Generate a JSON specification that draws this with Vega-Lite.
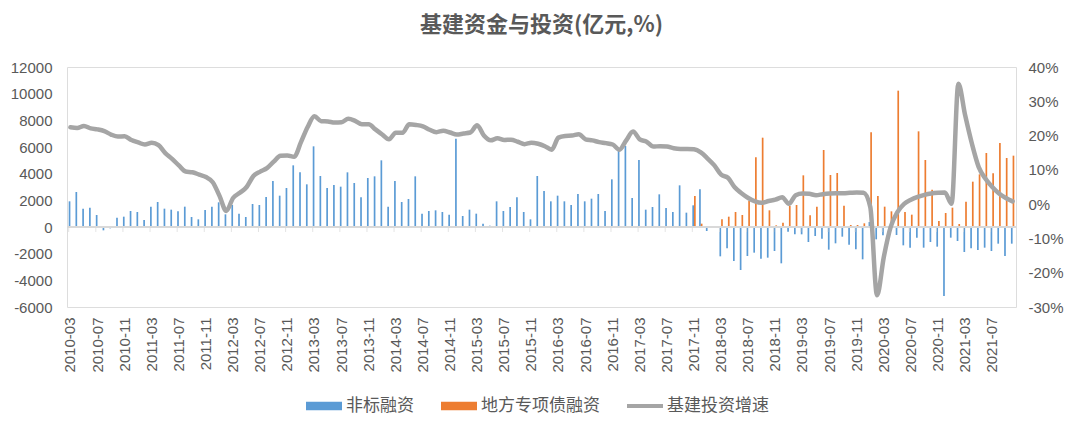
{
  "$schema": "https://vega.github.io/schema/vega-lite/v6.json",
  "width": 949,
  "height": 240,
  "autosize": {"type": "none"},
  "padding": {"left": 67, "top": 67, "right": 64, "bottom": 120},
  "background": "white",
  "title": {
    "text": "基建资金与投资(亿元,%)",
    "font": "Noto Sans CJK SC",
    "fontSize": 22,
    "fontWeight": "bold",
    "color": "#595959",
    "anchor": "middle",
    "frame": "group",
    "offset": 23
  },
  "data": {
    "values": [
      {"month": "2010-03", "非标融资": 1925, "地方专项债融资": null, "基建投资增速": 22.4},
      {"month": "2010-04", "非标融资": 2625, "地方专项债融资": null, "基建投资增速": 22.2},
      {"month": "2010-05", "非标融资": 1375, "地方专项债融资": null, "基建投资增速": 22.8},
      {"month": "2010-06", "非标融资": 1450, "地方专项债融资": null, "基建投资增速": 22.1},
      {"month": "2010-07", "非标融资": 900, "地方专项债融资": null, "基建投资增速": 21.8},
      {"month": "2010-08", "非标融资": -250, "地方专项债融资": null, "基建投资增速": 21.3},
      {"month": "2010-09", "非标融资": -100, "地方专项债融资": null, "基建投资增速": 20.3},
      {"month": "2010-10", "非标融资": 700, "地方专项债融资": null, "基建投资增速": 19.7},
      {"month": "2010-11", "非标融资": 775, "地方专项债融资": null, "基建投资增速": 19.8},
      {"month": "2010-12", "非标融资": 1200, "地方专项债融资": null, "基建投资增速": 18.7},
      {"month": "2011-01", "非标融资": 1125, "地方专项债融资": null, "基建投资增速": 18.0},
      {"month": "2011-02", "非标融资": 525, "地方专项债融资": null, "基建投资增速": 17.4},
      {"month": "2011-03", "非标融资": 1525, "地方专项债融资": null, "基建投资增速": 17.9},
      {"month": "2011-04", "非标融资": 1875, "地方专项债融资": null, "基建投资增速": 17.2},
      {"month": "2011-05", "非标融资": 1375, "地方专项债融资": null, "基建投资增速": 14.9},
      {"month": "2011-06", "非标融资": 1300, "地方专项债融资": null, "基建投资增速": 13.2},
      {"month": "2011-07", "非标融资": 1175, "地方专项债融资": null, "基建投资增速": 11.3},
      {"month": "2011-08", "非标融资": 1525, "地方专项债融资": null, "基建投资增速": 9.5},
      {"month": "2011-09", "非标融资": 750, "地方专项债融资": null, "基建投资增速": 9.3},
      {"month": "2011-10", "非标融资": 575, "地方专项债融资": null, "基建投资增速": 8.6},
      {"month": "2011-11", "非标融资": 1275, "地方专项债融资": null, "基建投资增速": 7.9},
      {"month": "2011-12", "非标融资": 1525, "地方专项债融资": null, "基建投资增速": 6.4},
      {"month": "2012-01", "非标融资": 1850, "地方专项债融资": null, "基建投资增速": 2.4},
      {"month": "2012-02", "非标融资": 950, "地方专项债融资": null, "基建投资增速": -2.0},
      {"month": "2012-03", "非标融资": 1650, "地方专项债融资": null, "基建投资增速": 1.8},
      {"month": "2012-04", "非标融资": 1000, "地方专项债融资": null, "基建投资增速": 3.3},
      {"month": "2012-05", "非标融资": 750, "地方专项债融资": null, "基建投资增速": 5.0},
      {"month": "2012-06", "非标融资": 1725, "地方专项债融资": null, "基建投资增速": 8.2},
      {"month": "2012-07", "非标融资": 1650, "地方专项债融资": null, "基建投资增速": 9.5},
      {"month": "2012-08", "非标融资": 2250, "地方专项债融资": null, "基建投资增速": 10.5},
      {"month": "2012-09", "非标融资": 3450, "地方专项债融资": null, "基建投资增速": 12.4},
      {"month": "2012-10", "非标融资": 2350, "地方专项债融资": null, "基建投资增速": 14.1},
      {"month": "2012-11", "非标融资": 2925, "地方专项债融资": null, "基建投资增速": 14.2},
      {"month": "2012-12", "非标融资": 4625, "地方专项债融资": null, "基建投资增速": 13.8},
      {"month": "2013-01", "非标融资": 4100, "地方专项债融资": null, "基建投资增速": 18.0},
      {"month": "2013-02", "非标融资": 3200, "地方专项债融资": null, "基建投资增速": 22.5},
      {"month": "2013-03", "非标融资": 6050, "地方专项债融资": null, "基建投资增速": 25.6},
      {"month": "2013-04", "非标融资": 3825, "地方专项债融资": null, "基建投资增速": 24.2},
      {"month": "2013-05", "非标融资": 2925, "地方专项债融资": null, "基建投资增速": 24.1},
      {"month": "2013-06", "非标融资": 3150, "地方专项债融资": null, "基建投资增速": 23.8},
      {"month": "2013-07", "非标融资": 3025, "地方专项债融资": null, "基建投资增速": 23.9},
      {"month": "2013-08", "非标融资": 4100, "地方专项债融资": null, "基建投资增速": 24.9},
      {"month": "2013-09", "非标融资": 3300, "地方专项债融资": null, "基建投资增速": 24.3},
      {"month": "2013-10", "非标融资": 2225, "地方专项债融资": null, "基建投资增速": 23.3},
      {"month": "2013-11", "非标融资": 3675, "地方专项债融资": null, "基建投资增速": 23.3},
      {"month": "2013-12", "非标融资": 3800, "地方专项债融资": null, "基建投资增速": 21.8},
      {"month": "2014-01", "非标融资": 5000, "地方专项债融资": null, "基建投资增速": 20.3},
      {"month": "2014-02", "非标融资": 1525, "地方专项债融资": null, "基建投资增速": 18.9},
      {"month": "2014-03", "非标融资": 3450, "地方专项债融资": null, "基建投资增速": 20.8},
      {"month": "2014-04", "非标融资": 1875, "地方专项债融资": null, "基建投资增速": 20.8},
      {"month": "2014-05", "非标融资": 2100, "地方专项债融资": null, "基建投资增速": 23.3},
      {"month": "2014-06", "非标融资": 3800, "地方专项债融资": null, "基建投资增速": 23.1},
      {"month": "2014-07", "非标融资": 1000, "地方专项债融资": null, "基建投资增速": 22.7},
      {"month": "2014-08", "非标融资": 1200, "地方专项债融资": null, "基建投资增速": 21.7},
      {"month": "2014-09", "非标融资": 1250, "地方专项债融资": null, "基建投资增速": 21.0},
      {"month": "2014-10", "非标融资": 1125, "地方专项债融资": null, "基建投资增速": 21.4},
      {"month": "2014-11", "非标融资": 925, "地方专项债融资": null, "基建投资增速": 20.9},
      {"month": "2014-12", "非标融资": 6625, "地方专项债融资": null, "基建投资增速": 20.3},
      {"month": "2015-01", "非标融资": 825, "地方专项债融资": null, "基建投资增速": 20.6},
      {"month": "2015-02", "非标融资": 1300, "地方专项债融资": null, "基建投资增速": 20.9},
      {"month": "2015-03", "非标融资": 1000, "地方专项债融资": null, "基建投资增速": 23.0},
      {"month": "2015-04", "非标融资": 250, "地方专项债融资": null, "基建投资增速": 20.0},
      {"month": "2015-05", "非标融资": 100, "地方专项债融资": null, "基建投资增速": 18.6},
      {"month": "2015-06", "非标融资": 1925, "地方专项债融资": null, "基建投资增速": 19.2},
      {"month": "2015-07", "非标融资": 1200, "地方专项债融资": null, "基建投资增速": 18.7},
      {"month": "2015-08", "非标融资": 1500, "地方专项债融资": null, "基建投资增速": 18.8},
      {"month": "2015-09", "非标融资": 2225, "地方专项债融资": null, "基建投资增速": 18.2},
      {"month": "2015-10", "非标融资": 1125, "地方专项债融资": null, "基建投资增速": 17.5},
      {"month": "2015-11", "非标融资": 575, "地方专项债融资": null, "基建投资增速": 17.9},
      {"month": "2015-12", "非标融资": 3825, "地方专项债融资": null, "基建投资增速": 17.6},
      {"month": "2016-01", "非标融资": 2700, "地方专项债融资": null, "基建投资增速": 16.9},
      {"month": "2016-02", "非标融资": 1925, "地方专项债融资": null, "基建投资增速": 15.9},
      {"month": "2016-03", "非标融资": 2350, "地方专项债融资": null, "基建投资增速": 19.4},
      {"month": "2016-04", "非标融资": 1925, "地方专项债融资": null, "基建投资增速": 19.9},
      {"month": "2016-05", "非标融资": 1650, "地方专项债融资": null, "基建投资增速": 20.0},
      {"month": "2016-06", "非标融资": 2475, "地方专项债融资": null, "基建投资增速": 20.4},
      {"month": "2016-07", "非标融资": 1925, "地方专项债融资": null, "基建投资增速": 18.9},
      {"month": "2016-08", "非标融资": 2125, "地方专项债融资": null, "基建投资增速": 18.6},
      {"month": "2016-09", "非标融资": 2475, "地方专项债融资": null, "基建投资增速": 18.1},
      {"month": "2016-10", "非标融资": 1200, "地方专项债融资": null, "基建投资增速": 17.8},
      {"month": "2016-11", "非标融资": 3575, "地方专项债融资": null, "基建投资增速": 17.4},
      {"month": "2016-12", "非标融资": 5700, "地方专项债融资": null, "基建投资增速": 15.9},
      {"month": "2017-01", "非标融资": 6075, "地方专项债融资": null, "基建投资增速": 18.6},
      {"month": "2017-02", "非标融资": 2175, "地方专项债融资": null, "基建投资增速": 21.2},
      {"month": "2017-03", "非标融资": 5025, "地方专项债融资": null, "基建投资增速": 18.9},
      {"month": "2017-04", "非标融资": 1300, "地方专项债融资": null, "基建投资增速": 18.2},
      {"month": "2017-05", "非标融资": 1500, "地方专项债融资": null, "基建投资增速": 16.8},
      {"month": "2017-06", "非标融资": 2450, "地方专项债融资": null, "基建投资增速": 16.9},
      {"month": "2017-07", "非标融资": 1425, "地方专项债融资": null, "基建投资增速": 16.8},
      {"month": "2017-08", "非标融资": 1125, "地方专项债融资": null, "基建投资增速": 16.3},
      {"month": "2017-09", "非标融资": 3125, "地方专项债融资": null, "基建投资增速": 16.1},
      {"month": "2017-10", "非标融资": 1075, "地方专项债融资": null, "基建投资增速": 16.1},
      {"month": "2017-11", "非标融资": 1625, "地方专项债融资": 2325, "基建投资增速": 16.0},
      {"month": "2017-12", "非标融资": 2825, "地方专项债融资": 250, "基建投资增速": 15.1},
      {"month": "2018-01", "非标融资": -300, "地方专项债融资": null, "基建投资增速": 13.3},
      {"month": "2018-02", "非标融资": null, "地方专项债融资": null, "基建投资增速": 11.3},
      {"month": "2018-03", "非标融资": -2200, "地方专项债融资": 575, "基建投资增速": 8.6},
      {"month": "2018-04", "非标融资": -1600, "地方专项债融资": 775, "基建投资增速": 7.7},
      {"month": "2018-05", "非标融资": -2550, "地方专项债融资": 1125, "基建投资增速": 4.9},
      {"month": "2018-06", "非标融资": -3225, "地方专项债融资": 900, "基建投资增速": 3.2},
      {"month": "2018-07", "非标融资": -2175, "地方专项债融资": 1950, "基建投资增速": 1.8},
      {"month": "2018-08", "非标融资": -1925, "地方专项债融资": 5225, "基建投资增速": 0.8},
      {"month": "2018-09", "非标融资": -2375, "地方专项债融资": 6700, "基建投资增速": 0.4},
      {"month": "2018-10", "非标融资": -2300, "地方专项债融资": 1250, "基建投资增速": 0.9},
      {"month": "2018-11", "非标融资": -1800, "地方专项债融资": 125, "基建投资增速": 1.3},
      {"month": "2018-12", "非标融资": -2725, "地方专项债融资": 325, "基建投资增速": 2.0},
      {"month": "2019-01", "非标融资": -350, "地方专项债融资": 1575, "基建投资增速": 0.1},
      {"month": "2019-02", "非标融资": -550, "地方专项债融资": 1650, "基建投资增速": 2.6},
      {"month": "2019-03", "非标融资": -550, "地方专项债融资": 3875, "基建投资增速": 3.1},
      {"month": "2019-04", "非标融资": -1125, "地方专项债融资": 875, "基建投资增速": 3.0},
      {"month": "2019-05", "非标融资": -675, "地方专项债融资": 1525, "基建投资增速": 2.6},
      {"month": "2019-06", "非标融资": -875, "地方专项债融资": 5775, "基建投资增速": 2.9},
      {"month": "2019-07", "非标融资": -1700, "地方专项债融资": 3900, "基建投资增速": 3.1},
      {"month": "2019-08", "非标融资": -1225, "地方专项债融资": 4050, "基建投资增速": 3.2},
      {"month": "2019-09", "非标融资": -725, "地方专项债融资": 1600, "基建投资增速": 3.2},
      {"month": "2019-10", "非标融资": -1325, "地方专项债融资": 150, "基建投资增速": 3.3},
      {"month": "2019-11", "非标融资": -1675, "地方专项债融资": 150, "基建投资增速": 3.4},
      {"month": "2019-12", "非标融资": -2425, "地方专项债融资": 275, "基建投资增速": 3.3},
      {"month": "2020-01", "非标融资": 375, "地方专项债融资": 7100, "基建投资增速": -0.8},
      {"month": "2020-02", "非标融资": -925, "地方专项债融资": 2325, "基建投资增速": -26.6},
      {"month": "2020-03", "非标融资": -625, "地方专项债融资": 1525, "基建投资增速": -15.4},
      {"month": "2020-04", "非标融资": -200, "地方专项债融资": 1175, "基建投资增速": -6.7},
      {"month": "2020-05", "非标融资": -600, "地方专项债融资": 10225, "基建投资增速": -2.3},
      {"month": "2020-06", "非标融资": -1375, "地方专项债融资": 1125, "基建投资增速": 0.1},
      {"month": "2020-07", "非标融资": -1550, "地方专项债融资": 925, "基建投资增速": 1.3},
      {"month": "2020-08", "非标融资": -800, "地方专项债融资": 7175, "基建投资增速": 2.1},
      {"month": "2020-09", "非标融资": -1550, "地方专项债融资": 5025, "基建投资增速": 2.7},
      {"month": "2020-10", "非标融资": -1125, "地方专项债融资": 2800, "基建投资增速": 3.1},
      {"month": "2020-11", "非标融资": -1475, "地方专项债融资": 450, "基建投资增速": 3.3},
      {"month": "2020-12", "非标融资": -5175, "地方专项债融资": 1050, "基建投资增速": 3.4},
      {"month": "2021-01", "非标融资": -800, "地方专项债融资": 1450, "基建投资增速": 0.1},
      {"month": "2021-02", "非标融资": -1050, "地方专项债融资": 225, "基建投资增速": 35.1},
      {"month": "2021-03", "非标融资": -1875, "地方专项债融资": 1900, "基建投资增速": 25.9},
      {"month": "2021-04", "非标融资": -1600, "地方专项债融资": 3400, "基建投资增速": 17.6},
      {"month": "2021-05", "非标融资": -1725, "地方专项债融资": 3950, "基建投资增速": 10.8},
      {"month": "2021-06", "非标融资": -1550, "地方专项债融资": 5550, "基建投资增速": 7.4},
      {"month": "2021-07", "非标融资": -1800, "地方专项债融资": 4025, "基建投资增速": 5.0},
      {"month": "2021-08", "非标融资": -1250, "地方专项债融资": 6300, "基建投资增速": 3.1},
      {"month": "2021-09", "非标融资": -2175, "地方专项债融资": 5175, "基建投资增速": 1.8},
      {"month": "2021-10", "非标融资": -1250, "地方专项债融资": 5350, "基建投资增速": 0.8}
    ]
  },
  "layer": [
    {
      "layer": [
        {
          "transform": [
            {"fold": ["非标融资", "地方专项债融资"], "as": ["series", "value"]},
            {"filter": "isValid(datum.value)"}
          ],
          "mark": {"type": "bar"},
          "encoding": {
            "x": {
              "field": "month",
              "type": "ordinal",
              "scale": {"paddingInner": 0.5, "paddingOuter": 0.25},
              "axis": {
                "title": null,
                "values": ["2010-03","2010-07","2010-11","2011-03","2011-07","2011-11","2012-03","2012-07","2012-11","2013-03","2013-07","2013-11","2014-03","2014-07","2014-11","2015-03","2015-07","2015-11","2016-03","2016-07","2016-11","2017-03","2017-07","2017-11","2018-03","2018-07","2018-11","2019-03","2019-07","2019-11","2020-03","2020-07","2020-11","2021-03","2021-07"],
                "labelAngle": -90,
                "labelFont": "Liberation Sans",
                "labelFontSize": 15,
                "labelColor": "#595959",
                "labelPadding": 10,
                "ticks": false,
                "domain": false,
                "grid": false
              }
            },
            "xOffset": {"field": "series", "type": "nominal", "scale": {"domain": ["非标融资", "地方专项债融资"]}},
            "y": {
              "field": "value",
              "type": "quantitative",
              "scale": {"domain": [-6000, 12000]},
              "axis": {
                "title": null,
                "values": [-6000, -4000, -2000, 0, 2000, 4000, 6000, 8000, 10000, 12000],
                "tickCount": 10,
                "labelExpr": "'' + datum.value",
                "labelFont": "Liberation Sans",
                "labelFontSize": 15,
                "labelColor": "#595959",
                "labelPadding": 15,
                "ticks": false,
                "domain": false,
                "grid": false
              }
            },
            "color": {
              "field": "series",
              "type": "nominal",
              "scale": {
                "domain": ["非标融资", "地方专项债融资", "基建投资增速"],
                "range": ["#5B9BD5", "#ED7D31", "#A5A5A5"]
              },
              "legend": {
                "title": null,
                "orient": "none",
                "direction": "horizontal",
                "legendX": 239,
                "legendY": 321,
                "labelFont": "Noto Sans CJK SC",
                "labelFontSize": 17,
                "labelColor": "#595959",
                "labelOffset": 4,
                "columnPadding": 27,
                "symbolType": "M-1,-0.24H1V0.24H-1Z",
                "symbolSize": 1296,
                "symbolStrokeWidth": 0,
                "encode": {
                  "symbols": {
                    "update": {
                      "shape": {"signal": "datum.label === '基建投资增速' ? 'M-1,-0.11H1V0.11H-1Z' : 'M-1,-0.24H1V0.24H-1Z'"},
                      "fill": {"scale": "color", "field": "value"},
                      "stroke": {"value": "transparent"},
                      "strokeWidth": {"value": 0},
                      "opacity": {"value": 1},
                      "fillOpacity": {"value": 1}
                    }
                  }
                }
              }
            }
          }
        },
        {
          "mark": {"type": "rule", "color": "#d9d9d9", "strokeWidth": 1.3},
          "encoding": {"y": {"datum": 0, "type": "quantitative"}}
        },
        {
          "transform": [
            {"filter": "indexof(['2010-03','2010-07','2010-11','2011-03','2011-07','2011-11','2012-03','2012-07','2012-11','2013-03','2013-07','2013-11','2014-03','2014-07','2014-11','2015-03','2015-07','2015-11','2016-03','2016-07','2016-11','2017-03','2017-07','2017-11','2018-03','2018-07','2018-11','2019-03','2019-07','2019-11','2020-03','2020-07','2020-11','2021-03','2021-07'], datum.month) >= 0"}
          ],
          "mark": {"type": "tick", "orient": "vertical", "size": 5, "thickness": 1, "yOffset": 2.5, "color": "#d9d9d9"},
          "encoding": {
            "x": {"field": "month", "type": "ordinal", "bandPosition": 0},
            "y": {"datum": 0, "type": "quantitative"}
          }
        }
      ]
    },
    {
      "mark": {"type": "line", "strokeWidth": 4.5, "interpolate": "monotone", "strokeCap": "round", "strokeJoin": "round"},
      "encoding": {
        "x": {"field": "month", "type": "ordinal"},
        "y": {
          "field": "基建投资增速",
          "type": "quantitative",
          "scale": {"domain": [-30, 40]},
          "axis": {
            "orient": "right",
            "title": null,
            "values": [-30, -20, -10, 0, 10, 20, 30, 40],
            "tickCount": 8,
            "labelExpr": "datum.value + '%'",
            "labelFont": "Liberation Sans",
            "labelFontSize": 15,
            "labelColor": "#595959",
            "labelPadding": 12,
            "ticks": false,
            "domain": false,
            "grid": false
          }
        },
        "color": {"datum": "基建投资增速"}
      }
    }
  ],
  "resolve": {"scale": {"y": "independent"}},
  "config": {
    "axis": {"labelOverlap": false}
  }
}
